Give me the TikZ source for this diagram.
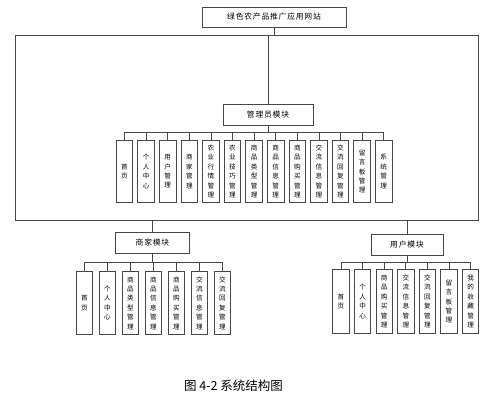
\documentclass[tikz,border=0pt]{standalone}
\usepackage{fontspec}
\newfontfamily\cjk{Noto Sans CJK SC}
\newfontfamily\cjkw[LetterSpace=10]{Noto Sans CJK SC}
\begin{document}
\begin{tikzpicture}[x=1pt,y=-1pt,
  ln/.style={draw=black!72, line width=0.8pt},
  box/.style={ln, fill=white, inner sep=0pt, minimum height=21pt, font=\cjkw\fontsize{7.8}{9}\selectfont},
  leaf/.style={ln, fill=white, minimum width=16.5pt, inner sep=0pt, align=center, anchor=north, font=\cjk\fontsize{6.6}{9.4}\selectfont}]
\useasboundingbox (0,0) rectangle (499,400);
% top
\node[box, minimum width=144pt, minimum height=20pt] (web) at (274,17) {绿色农产品推广应用网站};
\coordinate (fa) at (15,35);
\coordinate (fb) at (478,220);
\draw[ln] (fa) rectangle (fb);
\draw[ln] (web) -- (web |- fa);
% admin
\node[box, minimum width=90pt] (adm) at (268,114.5) {管理员模块};
\draw[ln] (adm) -- (adm |- fa);
\coordinate (abus) at (0,132);
\foreach \t [count=\i from 0] in {{首\\页},{个\\人\\中\\心},{用\\户\\管\\理},{商\\家\\管\\理},{农\\业\\行\\情\\管\\理},{农\\业\\技\\巧\\管\\理},{商\\品\\类\\型\\管\\理},{商\\品\\信\\息\\管\\理},{商\\品\\购\\买\\管\\理},{交\\流\\信\\息\\管\\理},{交\\流\\回\\复\\管\\理},{留\\言\\板\\管\\理},{系\\统\\管\\理}}{
  \node[leaf, minimum height=62pt] (a\i) at (124.5+21.6*\i,140) {\t};
  \draw[ln] (a\i) -- (a\i |- abus);
}
\draw[ln] (a0 |- abus) -- (a12 |- abus);
\draw[ln] (adm) -- (adm |- abus);
% merchant
\node[box, minimum width=74pt] (mer) at (152.5,242.5) {商家模块};
\draw[ln] (mer) -- (mer |- fb);
\coordinate (mbus) at (0,262);
\foreach \t [count=\i from 0] in {{首\\页},{个\\人\\中\\心},{商\\品\\类\\型\\管\\理},{商\\品\\信\\息\\管\\理},{商\\品\\购\\买\\管\\理},{交\\流\\信\\息\\管\\理},{交\\流\\回\\复\\管\\理}}{
  \node[leaf, minimum height=63pt] (m\i) at (84.5+23*\i,271) {\t};
  \draw[ln] (m\i) -- (m\i |- mbus);
}
\draw[ln] (m0 |- mbus) -- (m6 |- mbus);
\draw[ln] (mer) -- (mer |- mbus);
% user
\node[box, minimum width=72pt] (usr) at (407,244.5) {用户模块};
\draw[ln] (usr) -- (usr |- fb);
\coordinate (ubus) at (0,262);
\foreach \t [count=\i from 0] in {{首\\页},{个\\人\\中\\心},{商\\品\\购\\买\\管\\理},{交\\流\\信\\息\\管\\理},{交\\流\\回\\复\\管\\理},{留\\言\\板\\管\\理},{我\\的\\收\\藏\\管\\理}}{
  \node[leaf, minimum height=64pt] (u\i) at (341+21.6*\i,269) {\t};
  \draw[ln] (u\i) -- (u\i |- ubus);
}
\draw[ln] (u0 |- ubus) -- (u6 |- ubus);
\draw[ln] (usr) -- (usr |- ubus);
% caption
\node[font=\cjk\fontsize{12.5}{14}\selectfont, inner sep=0pt] (cap) at (233.5,386) {图 4-2 系统结构图};
\end{tikzpicture}
\end{document}
